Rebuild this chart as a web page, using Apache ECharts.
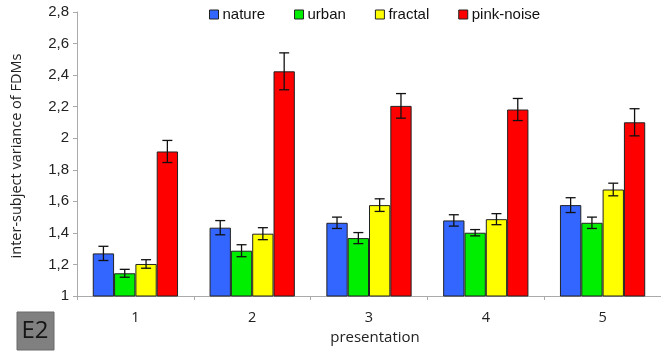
<!DOCTYPE html>
<html>
<head>
<meta charset="utf-8">
<script src="https://cdn.jsdelivr.net/npm/echarts@6/dist/echarts.min.js"></script>
<style>html,body{margin:0;padding:0;background:#fff}#c{width:661px;height:352px}</style>
</head>
<body>
<div id="c"></div>
<script>
const categories = ['1', '2', '3', '4', '5'];
const seriesNames = ['nature', 'urban', 'fractal', 'pink-noise'];
const nature = [1.27, 1.433, 1.464, 1.479, 1.576];
const urban = [1.144, 1.287, 1.367, 1.401, 1.464];
const fractal = [1.203, 1.395, 1.576, 1.487, 1.675];
const pinkNoise = [1.916, 2.424, 2.205, 2.182, 2.101];
const natureErr = [0.045, 0.045, 0.036, 0.036, 0.047];
const urbanErr = [0.025, 0.038, 0.035, 0.02, 0.036];
const fractalErr = [0.027, 0.038, 0.04, 0.035, 0.04];
const pinkNoiseErr = [0.07, 0.117, 0.078, 0.07, 0.086];
const yTicks = [1, 1.2, 1.4, 1.6, 1.8, 2, 2.2, 2.4, 2.6, 2.8];

const values = [nature, urban, fractal, pinkNoise];
const errs = [natureErr, urbanErr, fractalErr, pinkNoiseErr];
const colors = ['#3366ff', '#00ee00', '#ffff00', '#ff0000'];
const gapPct = 0.27;

const chart = echarts.init(document.getElementById('c'));
const series = [];
values.forEach((vals, i) => {
  series.push({
    name: seriesNames[i], type: 'bar', data: vals,
    barGap: 0, barCategoryGap: (gapPct * 100) + '%',
    itemStyle: { color: colors[i], borderColor: '#222', borderWidth: 1 },
    z: 2
  });
});
values.forEach((vals, i) => {
  series.push({
    type: 'custom', name: seriesNames[i] + '-err',
    data: vals.map((v, k) => [k, v, errs[i][k]]),
    z: 5, silent: true,
    renderItem: function (params, api) {
      const k = api.value(0), v = api.value(1), e = api.value(2);
      const band = api.size([1, 0])[0];
      const bw = band * (1 - gapPct) / 4;
      const c = api.coord([k, v]);
      const x = c[0] - 2 * bw + (i + 0.5) * bw;
      const top = api.coord([k, v + e])[1];
      const bot = api.coord([k, v - e])[1];
      const hw = 5;
      const st = { stroke: '#111', lineWidth: 1.3 };
      return { type: 'group', children: [
        { type: 'line', shape: { x1: x, y1: top, x2: x, y2: bot }, style: st },
        { type: 'line', shape: { x1: x - hw, y1: top, x2: x + hw, y2: top }, style: st },
        { type: 'line', shape: { x1: x - hw, y1: bot, x2: x + hw, y2: bot }, style: st }
      ]};
    }
  });
});

chart.setOption({
  animation: false,
  backgroundColor: '#fff',
  grid: { left: 77, right: 0, top: 12, bottom: 56 },
  legend: {
    data: seriesNames.map(n => ({ name: n, icon: 'rect' })),
    top: 7, left: 209, padding: 0, itemWidth: 9, itemHeight: 9, itemGap: 29,
    textStyle: { fontFamily: 'Liberation Sans', fontSize: 15, color: '#111', padding: [0, 0, 0, -1] },
    itemStyle: { borderColor: '#222', borderWidth: 1 }
  },
  xAxis: {
    type: 'category', data: categories,
    axisLine: { lineStyle: { color: '#aaa' } },
    axisTick: { show: true, length: 4, lineStyle: { color: '#aaa' } },
    axisLabel: { fontFamily: 'Open Sans', fontSize: 14.5, color: '#222', margin: 14 }
  },
  yAxis: {
    type: 'value', min: 1, max: 2.8, interval: 0.2,
    axisLine: { show: true, lineStyle: { color: '#aaa' } },
    axisTick: { show: true, length: 4, lineStyle: { color: '#aaa' } },
    splitLine: { show: false },
    axisLabel: {
      fontFamily: 'Liberation Sans', fontSize: 15, color: '#222', margin: 8,
      formatter: v => { const t = yTicks.find(t => Math.abs(t - v) < 1e-6); return t === undefined ? '' : String(Math.round(t * 10) / 10).replace('.', ','); }
    }
  },
  graphic: [
    { type: 'text', x: 17, y: 156, rotation: Math.PI / 2, style: { text: 'inter-subject variance of FDMs', fontFamily: 'Open Sans', fontSize: 14.5, fill: '#222', align: 'center', verticalAlign: 'middle' } },
    { type: 'text', x: 375, y: 338, style: { text: 'presentation', fontFamily: 'Open Sans', fontSize: 15, fill: '#222', align: 'center', verticalAlign: 'middle' } },
    { type: 'rect', x: 17, y: 312, shape: { width: 37, height: 38 }, style: { fill: '#808080', stroke: '#6a6a6a', lineWidth: 1 } },
    { type: 'text', x: 35, y: 331, style: { text: 'E2', fontFamily: 'Open Sans', fontSize: 24, fill: '#151515', align: 'center', verticalAlign: 'middle' } }
  ],
  series: series
});
</script>
</body>
</html>
